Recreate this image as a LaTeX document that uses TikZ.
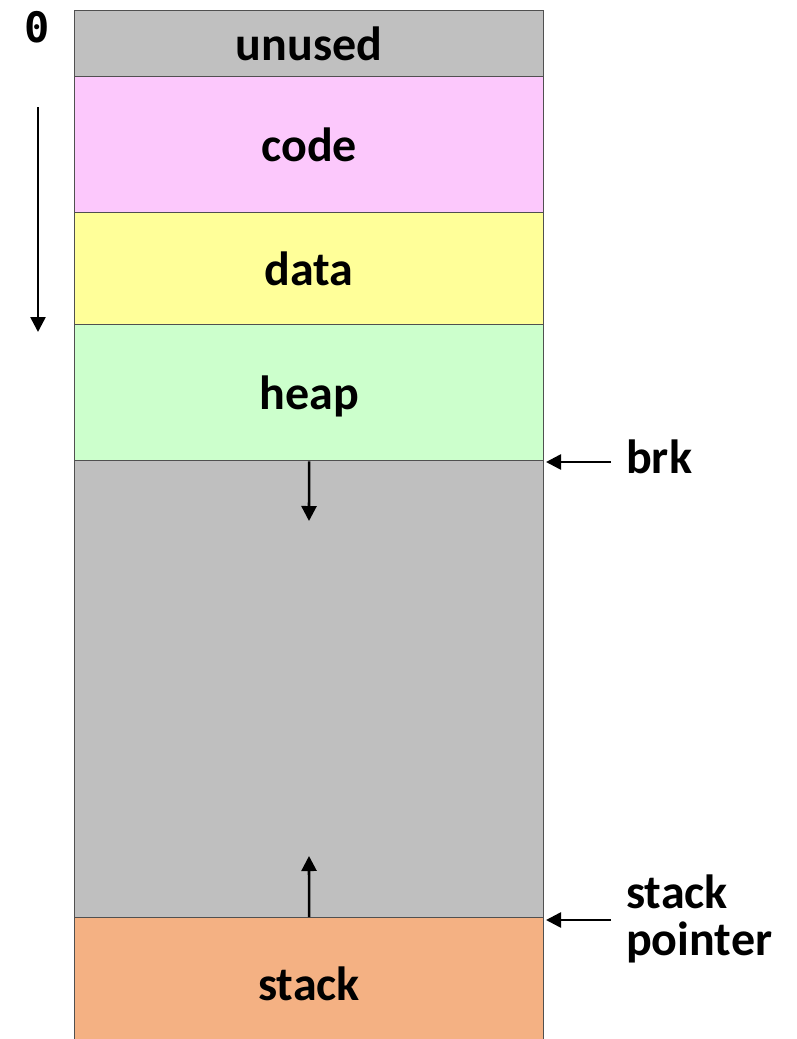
\documentclass[tikz,border=0pt]{standalone}
\usepackage{fontspec}
\setmainfont{Carlito}
\newfontfamily\zeromono{DejaVu Sans Mono}
\usetikzlibrary{arrows.meta}
\definecolor{cunused}{HTML}{C0C0C0}
\definecolor{ccode}{HTML}{FCC8FC}
\definecolor{cdata}{HTML}{FFFF99}
\definecolor{cheap}{HTML}{CCFFCC}
\definecolor{cfree}{HTML}{BFBFBF}
\definecolor{cstack}{HTML}{F4B183}
\definecolor{cborder}{HTML}{505050}
\tikzset{
  seg/.style={draw=cborder, line width=1.3pt, minimum width=469pt, inner sep=0pt, anchor=north west,
    text height=36pt, text depth=2pt,
    font=\fontsize{48}{50}\selectfont\bfseries},
  arr/.style={line width=2.6pt, -{Triangle[length=15pt,width=15pt]}},
  lab/.style={font=\fontsize{48}{47}\selectfont\bfseries, anchor=base west, align=left, inner sep=0pt}
}
\begin{document}
\begin{tikzpicture}[x=1pt,y=-1pt]
\useasboundingbox (0,0) rectangle (796,1039);
\node[seg, fill=cunused, minimum height=66pt] (unused) at (74,10) {unused};
\node[seg, fill=ccode, minimum height=136pt] (code) at (74,76) {code};
\node[seg, fill=cdata, minimum height=112pt] (data) at (74,212) {data};
\node[seg, fill=cheap, minimum height=136pt] (heap) at (74,324) {heap};
\node[seg, fill=cfree, minimum height=457pt] (free) at (74,460) {};
\node[seg, fill=cstack, minimum height=132pt] (stack) at (74,917) {stack};
\node[font=\fontsize{42}{42}\selectfont\bfseries\zeromono, inner sep=0pt] (zero) at (37,27) {0};
\coordinate (dtop) at (38,107);
\coordinate (dbot) at (38,332);
\draw[arr] (dtop) -- (dbot);
\coordinate (heapend) at (309,521);
\draw[arr] (heap.south) -- (heapend);
\coordinate (stackend) at (309,856);
\draw[arr] (stack.north) -- (stackend);
\node[lab] (brk) at (626,473) {brk};
\node[lab] (sp) at (626,955) {stack\\pointer};
\coordinate (brktip) at (546,462);
\coordinate (sptip) at (546,920);
\draw[arr] (611,462) -- (brktip);
\draw[arr] (611,920) -- (sptip);
\end{tikzpicture}
\end{document}
